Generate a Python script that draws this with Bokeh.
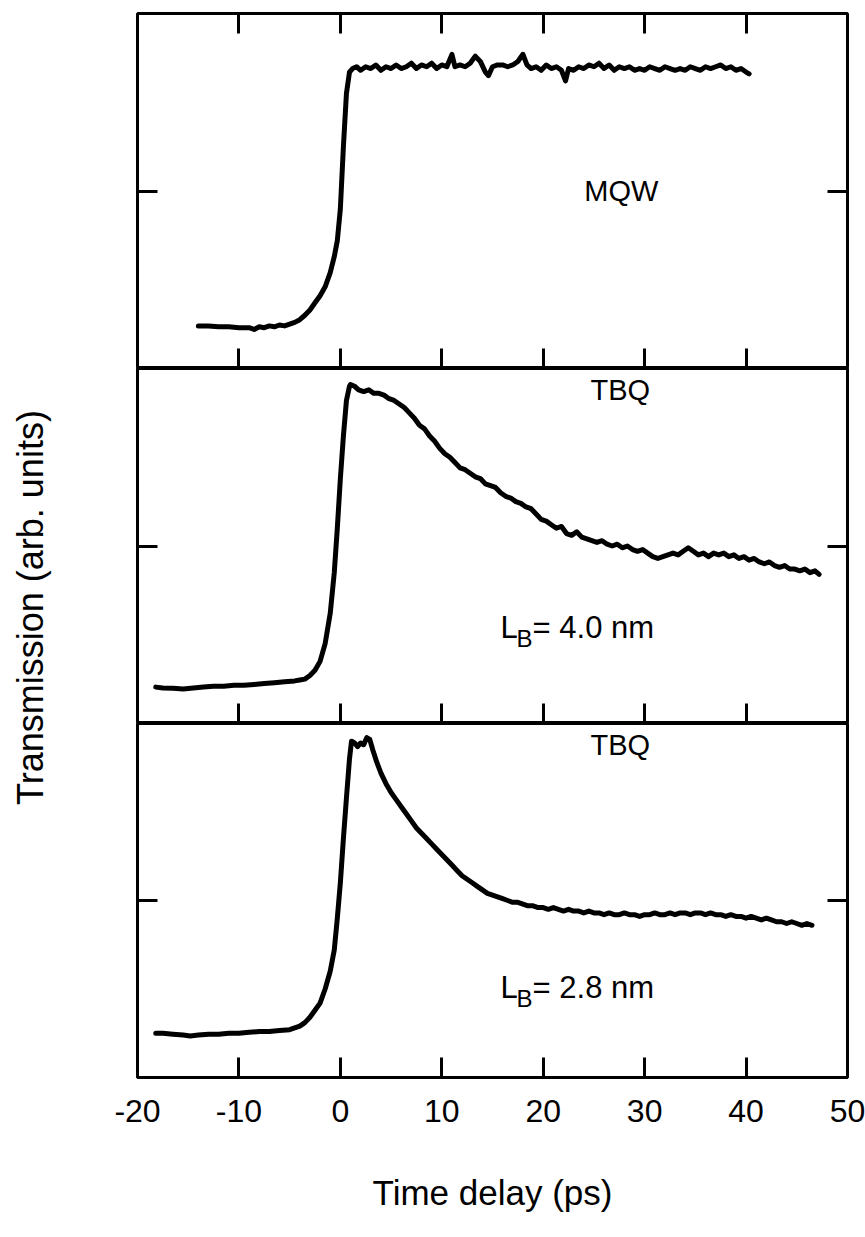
import math
from bokeh.plotting import figure
from bokeh.models import LinearAxis, FixedTicker, Range1d
from bokeh.layouts import column, row
from bokeh.embed import file_html
from bokeh.resources import INLINE
from bokeh.core.properties import value

FONT = "Liberation Sans"

# ---------------- data ----------------
x_ticks = [-20, -10, 0, 10, 20, 30, 40, 50]
x_tick_labels = ["-20", "-10", "0", "10", "20", "30", "40", "50"]
y_ticks = [1]

mqw_t = [-14.0, -13.0, -12.0, -11.0, -10.0, -9.0, -8.5, -8.0, -7.5, -7.0, -6.5, -6.0, -5.5, -5.0,
         -4.5, -4.0, -3.5, -3.0, -2.5, -2.0, -1.5, -1.0, -0.6, -0.3, 0.0, 0.3, 0.6, 0.9, 1.2,
         1.6, 2.0, 2.5, 3.0, 3.5, 4.0, 4.5, 5.0, 5.5, 6.0, 6.5, 7.0, 7.5, 8.0, 8.5, 9.0, 9.5,
         10.0, 10.5, 11.0, 11.3, 11.8, 12.3, 12.8, 13.3, 13.8, 14.3, 14.6, 15.0, 15.5, 16.0,
         16.5, 17.0, 17.5, 18.0, 18.4, 18.8, 19.3, 19.8, 20.3, 20.8, 21.3, 21.8, 22.2, 22.5,
         23.0, 23.5, 24.0, 24.5, 25.0, 25.5, 26.0, 26.5, 27.0, 27.5, 28.0, 28.5, 29.0, 29.5,
         30.0, 30.5, 31.0, 31.5, 32.0, 32.5, 33.0, 33.5, 34.0, 34.5, 35.0, 35.5, 36.0, 36.5,
         37.0, 37.5, 38.0, 38.5, 39.0, 39.5, 40.0, 40.3]
mqw_v = [0.24, 0.24, 0.235, 0.235, 0.23, 0.23, 0.22, 0.235, 0.23, 0.24, 0.235, 0.245, 0.24, 0.25,
         0.26, 0.275, 0.30, 0.33, 0.37, 0.41, 0.46, 0.54, 0.63, 0.72, 0.90, 1.25, 1.55, 1.67, 1.69,
         1.70, 1.68, 1.70, 1.69, 1.71, 1.68, 1.70, 1.69, 1.71, 1.69, 1.70, 1.72, 1.69, 1.71, 1.70,
         1.72, 1.69, 1.71, 1.70, 1.77, 1.70, 1.71, 1.70, 1.72, 1.76, 1.73, 1.67, 1.65, 1.70, 1.71,
         1.71, 1.70, 1.71, 1.73, 1.77, 1.71, 1.69, 1.70, 1.68, 1.71, 1.69, 1.70, 1.68, 1.62, 1.69,
         1.68, 1.70, 1.69, 1.71, 1.70, 1.72, 1.69, 1.71, 1.68, 1.70, 1.69, 1.70, 1.68, 1.69,
         1.68, 1.70, 1.69, 1.68, 1.70, 1.69, 1.68, 1.69, 1.68, 1.70, 1.69, 1.68, 1.70, 1.69,
         1.70, 1.71, 1.69, 1.70, 1.68, 1.69, 1.67, 1.66]

tbq40_t = [-18.2, -17.5, -16.5, -15.5, -14.5, -13.5, -12.5, -11.5, -10.5, -9.5, -8.5, -7.5, -6.5,
           -5.5, -4.5, -4.0, -3.5, -3.0, -2.5, -2.0, -1.5, -1.0, -0.6, -0.3, 0.0, 0.3, 0.6, 0.9,
           1.0, 1.4, 1.8, 2.3, 2.8, 3.3, 3.8, 4.3, 4.8, 5.3, 5.8, 6.3, 6.8, 7.3, 7.8, 8.3, 8.8,
           9.3, 9.8, 10.3, 10.8, 11.3, 11.8, 12.3, 12.8, 13.3, 13.8, 14.3, 14.8, 15.3, 15.8, 16.3,
           16.8, 17.3, 17.8, 18.3, 18.8, 19.3, 19.8, 20.3, 20.8, 21.3, 21.8, 22.3, 22.8, 23.3,
           23.8, 24.3, 24.8, 25.3, 25.8, 26.3, 26.8, 27.3, 27.8, 28.3, 28.8, 29.3, 29.8, 30.3,
           30.8, 31.3, 31.8, 32.3, 32.8, 33.3, 33.8, 34.3, 34.8, 35.3, 35.8, 36.3, 36.8, 37.3,
           37.8, 38.3, 38.8, 39.3, 39.8, 40.3, 40.8, 41.3, 41.8, 42.3, 42.8, 43.3, 43.8, 44.3,
           44.8, 45.3, 45.8, 46.3, 46.8, 47.2]
tbq40_v = [0.205, 0.20, 0.198, 0.195, 0.20, 0.205, 0.21, 0.21, 0.215, 0.215, 0.22, 0.225, 0.23,
           0.235, 0.24, 0.245, 0.25, 0.27, 0.30, 0.35, 0.45, 0.62, 0.85, 1.10, 1.38, 1.62, 1.82, 1.90,
           1.91, 1.90, 1.88, 1.87, 1.88, 1.86, 1.86, 1.85, 1.83, 1.82, 1.80, 1.78, 1.75, 1.72, 1.68,
           1.66, 1.62, 1.59, 1.55, 1.52, 1.50, 1.47, 1.44, 1.43, 1.41, 1.39, 1.38, 1.35, 1.34, 1.33,
           1.30, 1.28, 1.27, 1.25, 1.24, 1.22, 1.21, 1.18, 1.15, 1.14, 1.12, 1.10, 1.11, 1.07, 1.06,
           1.08, 1.05, 1.04, 1.03, 1.02, 1.03, 1.01, 1.00, 1.01, 0.99, 1.00, 0.98, 0.97, 0.98, 0.96,
           0.94, 0.93, 0.94, 0.95, 0.96, 0.95, 0.97, 0.99, 0.97, 0.95, 0.96, 0.94, 0.96, 0.95,
           0.96, 0.94, 0.95, 0.93, 0.94, 0.92, 0.93, 0.91, 0.90, 0.91, 0.89, 0.88, 0.89, 0.87,
           0.87, 0.86, 0.87, 0.85, 0.86, 0.84]

tbq28_t = [-18.2, -17.5, -16.5, -15.5, -14.8, -14.0, -13.0, -12.0, -11.0, -10.0, -9.0, -8.0, -7.0,
           -6.0, -5.0, -4.5, -4.0, -3.5, -3.0, -2.5, -2.0, -1.5, -1.0, -0.6, -0.3, 0.0, 0.3, 0.6,
           0.9, 1.1, 1.4, 1.7, 2.0, 2.3, 2.6, 2.9, 3.2, 3.6, 4.0, 4.5, 5.0, 5.5, 6.0, 6.5, 7.0, 7.5,
           8.0, 8.5, 9.0, 9.5, 10.0, 10.5, 11.0, 11.5, 12.0, 12.5, 13.0, 13.5, 14.0, 14.5, 15.0,
           15.5, 16.0, 16.5, 17.0, 17.5, 18.0, 18.5, 19.0, 19.5, 20.0, 20.5, 21.0, 21.5, 22.0,
           22.5, 23.0, 23.5, 24.0, 24.5, 25.0, 25.5, 26.0, 26.5, 27.0, 27.5, 28.0, 28.5, 29.0,
           29.5, 30.0, 30.5, 31.0, 31.5, 32.0, 32.5, 33.0, 33.5, 34.0, 34.5, 35.0, 35.5, 36.0,
           36.5, 37.0, 37.5, 38.0, 38.5, 39.0, 39.5, 40.0, 40.5, 41.0, 41.5, 42.0, 42.5, 43.0,
           43.5, 44.0, 44.5, 45.0, 45.5, 46.0, 46.5]
tbq28_v = [0.25, 0.25, 0.245, 0.24, 0.235, 0.24, 0.245, 0.245, 0.25, 0.25, 0.255, 0.26, 0.26,
           0.265, 0.27, 0.28, 0.29, 0.31, 0.34, 0.38, 0.42, 0.50, 0.60, 0.72, 0.90, 1.10, 1.35, 1.58,
           1.80, 1.90, 1.89, 1.87, 1.89, 1.88, 1.92, 1.91, 1.85, 1.78, 1.72, 1.66, 1.61, 1.57, 1.53,
           1.49, 1.45, 1.41, 1.38, 1.35, 1.32, 1.29, 1.26, 1.23, 1.20, 1.17, 1.14, 1.12, 1.10, 1.08,
           1.06, 1.04, 1.03, 1.02, 1.01, 1.00, 0.99, 0.99, 0.98, 0.97, 0.97, 0.96, 0.96, 0.95, 0.96,
           0.95, 0.94, 0.95, 0.94, 0.94, 0.93, 0.94, 0.93, 0.93, 0.92, 0.93, 0.92, 0.92, 0.93, 0.92,
           0.92, 0.91, 0.92, 0.92, 0.93, 0.92, 0.92, 0.93, 0.92, 0.93, 0.93, 0.92, 0.93, 0.93, 0.92,
           0.93, 0.92, 0.92, 0.91, 0.92, 0.91, 0.91, 0.90, 0.91, 0.90, 0.89, 0.90, 0.89, 0.88,
           0.88, 0.87, 0.88, 0.87, 0.86, 0.87, 0.86]

# ---------------- helpers ----------------
def make_panel(h, top, bottom):
    p = figure(width=805, height=h, x_range=Range1d(-20, 50), y_range=Range1d(0, 2),
               x_axis_location=None, y_axis_location=None, toolbar_location=None,
               output_backend="svg", min_border_left=77, min_border_right=18,
               min_border_top=top, min_border_bottom=bottom)
    p.grid.grid_line_color = None
    p.outline_line_color = "black"
    p.outline_line_width = 3
    p.outline_line_alpha = 1.0
    p.background_fill_color = "white"
    p.border_fill_color = "white"
    for side in ("left", "right"):
        ax = LinearAxis(ticker=FixedTicker(ticks=y_ticks), major_tick_in=20, major_tick_out=0,
                        major_tick_line_width=3, minor_tick_line_color=None,
                        axis_line_color=None, major_label_text_color=None,
                        major_label_standoff=0)
        p.add_layout(ax, side)
    return p


def add_xaxis(p, side, fixed=None, labels=False):
    ax = LinearAxis(ticker=FixedTicker(ticks=x_ticks), major_tick_in=20, major_tick_out=0,
                    major_tick_line_width=3, minor_tick_line_color=None, axis_line_color=None)
    if fixed is not None:
        ax.fixed_location = fixed
    if labels:
        ax.major_label_overrides = dict(zip(x_ticks, x_tick_labels))
        ax.major_label_text_font = FONT
        ax.major_label_text_font_size = "32px"
        ax.major_label_text_color = "black"
        ax.major_label_standoff = 22
        ax.axis_label = "Time delay (ps)"
        ax.axis_label_text_font = FONT
        ax.axis_label_text_font_size = "35px"
        ax.axis_label_text_font_style = "normal"
        ax.axis_label_text_color = "black"
        ax.axis_label_standoff = 48
    else:
        ax.major_label_text_color = None
        ax.major_label_standoff = 0
    p.add_layout(ax, side)


def curve(p, t, v):
    p.line(t, v, line_width=5, line_color="black", line_join="round", line_cap="round")


def txt(p, x, y, s, size="29px", align="center", xo=0, yo=0):
    p.text(x=[x], y=[y], text=[s], text_font=value(FONT), text_font_size=size,
           text_align=align, text_baseline="middle", text_color="black",
           x_offset=xo, y_offset=yo)

# ---------------- panels ----------------
p1 = make_panel(368, 13, 0)
add_xaxis(p1, "above", fixed=2)
add_xaxis(p1, "below", fixed=0)
curve(p1, mqw_t, mqw_v)
txt(p1, 27.7, 1.0, "MQW")

p2 = make_panel(355, 0, 0)
add_xaxis(p2, "below", fixed=0)
curve(p2, tbq40_t, tbq40_v)
txt(p2, 27.6, 1.88, "TBQ")
txt(p2, 15.8, 0.54, "L", size="31px", align="left")
txt(p2, 15.8, 0.54, "B", size="24px", align="left", xo=16, yo=11)
txt(p2, 15.8, 0.54, "= 4.0 nm", size="31px", align="left", xo=32)

p3 = make_panel(514, 0, 160)
add_xaxis(p3, "below", labels=True)
curve(p3, tbq28_t, tbq28_v)
txt(p3, 27.6, 1.88, "TBQ")
txt(p3, 15.8, 0.51, "L", size="31px", align="left")
txt(p3, 15.8, 0.51, "B", size="24px", align="left", xo=16, yo=11)
txt(p3, 15.8, 0.51, "= 2.8 nm", size="31px", align="left", xo=32)

# y-axis title column
lab = figure(width=60, height=1237, x_range=Range1d(0, 60), y_range=Range1d(0, 1237),
             x_axis_location=None, y_axis_location=None, toolbar_location=None,
             output_backend="svg", min_border=0)
lab.grid.grid_line_color = None
lab.outline_line_color = None
lab.text(x=[30], y=[630], text=["Transmission (arb. units)"], angle=math.pi / 2,
         text_font=value(FONT), text_font_size="36px", text_align="center",
         text_baseline="middle", text_color="black")

layout = row(lab, column(p1, p2, p3))

with open("out.html", "w") as f:
    f.write(file_html(layout, INLINE))
